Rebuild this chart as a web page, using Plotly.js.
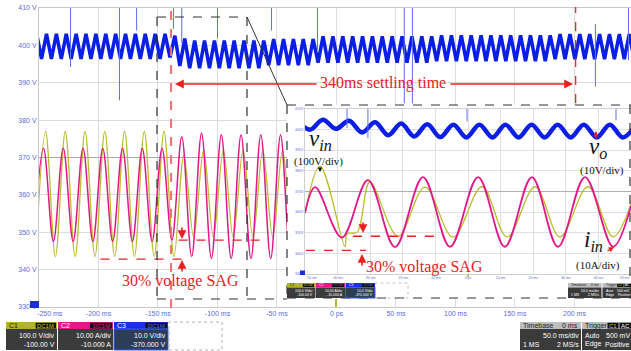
<!DOCTYPE html>
<html><head><meta charset="utf-8">
<script src="https://cdn.plot.ly/plotly-3.0.1.min.js"></script>
<style>html,body{margin:0;padding:0;background:#fff}#chart{width:631px;height:351px}</style>
</head><body><div id="chart"></div>
<script>
// ================= DATA =================
// Main capture (50 ms/div). Waveform extremes, alternating trough/peak (or peak/trough for vo)
const vinStart = -252.8, vinHalf = 8.3;           // ms  (C1 v_in, first extreme = trough)
const vinExt = [343.5,377,343.5,377,343.5,377,343.5,377,343.5,377,343.5,377,343.5,377,
  343.5,370.5,
  348.7,372,348.7,372,348.7,372,348.7,372,348.7,372,348.7,372,348.7,372,348.7,372,
  348.7,372,348.7,372,348.7,372,348.7,372,348.7,372,348.7,372,348.7,372,348.7,372,
  348.7,372,348.7,372,348.7,372,348.7,372,348.7,372,348.7,372];
const iinStart = -254.5, iinHalf = 8.3;           // C2 i_in (displayed), first = trough
const iinExt = [347.5,372.5,347.5,372.5,347.5,372.5,347.5,372.5,347.5,372.5,347.5,372.5,347.5,372.5,
  347.9,375.5,343.5,376.5,
  343,376,343,376,343,376,343,376,343,376,343,376,343,376,343,376,343,376,343,376,343,376,
  343,376,343,376,343,376,343,376,343,376,343,376,343,376,343,376,343,376,343,376];
const voStart = -252.0, voHalf = 4.15;            // C3 v_o, first = peak
const voExt = [403.1,396.4,403.1,396.4,403.1,396.4,403.1,396.4,403.1,396.4,403.1,396.4,403.1,396.4,
  403.1,396.4,403.1,396.4,403.1,396.4,403.1,396.4,403.1,396.4,403.1,396.4,403.1,
  396.8,402.6,394.5,401.8,
  393.9,401.3,393.9,401.3,393.9,401.3,393.9,401.3,393.9,401.3,393.9,401.3,393.9,401.3,393.9,401.3,
  394.7,401.7,394.7,401.7,394.7,401.7,394.7,401.7,394.7,401.7,
  395.4,402.4,395.4,402.4,395.4,402.4,395.4,402.4,395.4,402.4,395.4,402.4,
  395.4,402.4,395.4,402.4,395.4,402.4,395.4,402.4,395.4,402.4,395.4,402.4,
  395.8,402.7,395.8,402.7,395.8,402.7,395.8,402.7,395.8,402.7,395.8,402.7,
  395.8,402.7,395.8,402.7,395.8,402.7,395.8,402.7,395.8,402.7,395.8,402.7,
  396.3,403.0,396.3,403.0,396.3,403.0,396.3,403.0,396.3,403.0,396.3,403.0,396.3,403.0,396.3,403.0,396.3];
// glitch spikes on v_o (main)
const spikeT  = [-223.5,-182.4,-168,-137,-130,-100,-54.6,-16,57,63.8,217.6,245.4];
const spikeHi = [410,410,410,410,410,410,410,410,410,410,405.7,410];
const spikeLo = [394.2,385.3,404,404.4,400.6,402,404,398.8,384.5,384.5,389,396];

// Zoomed inset capture (10 ms/div)
const zVinT = [-50,-45.4,-37.7,-37.1,-34.0,-30.1,-21.5,-13.2,-4.6,4.3,12.0,20.6,28.2,36.8,44.5,50];
const zVinV = [359.5,382.3,343.2,349.5,350.3,374.6,348.3,372.1,347.9,372.3,348,372.3,348,372.3,348,364];
const zIinT = [-50,-46.9,-38.7,-30.7,-22.4,-13.8,-5.5,3.1,11.3,19.6,27.6,35.9,44.5,50];
const zIinV = [359.5,372.1,347.7,375.5,343,377,343.2,377,343.2,377,343.2,377,343.2,363];
const zVoStart = -52.5, zVoHalf = 4.0;
const zVoExt = [404.6,400,404.8,400.4,404.3,398.6,403.6,397.3,403,396.7,402.6,396.4,402.4,396.2,
  402.4,396.2,402.4,396.2,402.4,396.2,402.4,396.2,402.4,396.2,402.4,396.2,402.4];
const zSpikeT = [-37.1,-30.7,-0.3,45.4];
const zSpikeLo = [400.7,395.8,404,404.5];

// tick labels
const yTicks = [410,400,390,380,370,360,350,340,330];
const xTicks = [-250,-200,-150,-100,-50,0,50,100,150,200,250];
const xTickText = ['-250 ms','-200 ms','-150 ms','-100 ms','-50 ms','0 ps','50 ms','100 ms','150 ms','200 ms','250 ms'];
const zxTicks = [-50,-40,-30,-20,-10,0,10,20,30,40,50];
const zxTickText = ['-50 ms','-40 ms','-30 ms','-20 ms','-10 ms','0 ps','10 ms','20 ms','30 ms','40 ms','50 ms'];
const settleStart = -139, settleEnd = 201;   // ms (340 ms settling)

// ================= BUILD =================
function alt(start, half, vals){ return {x: vals.map((v,i)=>start+half*i), y: vals.slice()}; }
function spikes(ts, hi, lo){ const x=[],y=[]; ts.forEach((t,i)=>{x.push(t,t,null); y.push(Array.isArray(hi)?hi[i]:hi, lo[i], null);}); return {x,y}; }

const YEL='#b7bf2c', MAG='#e2178a', BLU='#0a1ee6', SPK='#5d6ef2', RED='#e8201f', TB='#5b6cd8';
const vin=alt(vinStart,vinHalf,vinExt), iin=alt(iinStart,iinHalf,iinExt), vo=alt(voStart,voHalf,voExt);
const sp=spikes(spikeT,spikeHi,spikeLo);
const zvo=alt(zVoStart,zVoHalf,zVoExt);
const zsp=spikes(zSpikeT,410,zSpikeLo);

const traces=[
 {x:vin.x,y:vin.y,mode:'lines',line:{color:YEL,width:1.3,shape:'spline'},xaxis:'x',yaxis:'y'},
 {x:iin.x,y:iin.y,mode:'lines',line:{color:MAG,width:1.5,shape:'spline'},xaxis:'x',yaxis:'y'},
 {x:vo.x,y:vo.y,mode:'lines',line:{color:BLU,width:3.5},xaxis:'x',yaxis:'y'},
 {x:sp.x,y:sp.y,mode:'lines',line:{color:SPK,width:1},xaxis:'x',yaxis:'y'},
 {x:[0],y:[0],mode:'markers',marker:{opacity:0},xaxis:'x2',yaxis:'y2',hoverinfo:'skip'},
 {x:zVinT,y:zVinV,mode:'lines',line:{color:YEL,width:1.3,shape:'spline'},xaxis:'x3',yaxis:'y3'},
 {x:zIinT,y:zIinV,mode:'lines',line:{color:MAG,width:1.8,shape:'spline'},xaxis:'x3',yaxis:'y3'},
 {x:zvo.x,y:zvo.y,mode:'lines',line:{color:BLU,width:4.5,shape:'spline'},xaxis:'x3',yaxis:'y3'},
 {x:zsp.x,y:zsp.y,mode:'lines',line:{color:SPK,width:1},xaxis:'x3',yaxis:'y3'}
];

// pixel -> paper helpers (main plot area: x 39..631, y 8..307)
const L=39,T=8,W=592,H=299;
const X=px=>(px-L)/W, Y=py=>1-(py-T)/H;
const shapes=[], ann=[];
function R(x0,y0,x1,y1,fill,lc,lw,dash){shapes.push({type:'rect',xref:'paper',yref:'paper',x0:X(x0),x1:X(x1),y0:Y(y1),y1:Y(y0),fillcolor:fill||'rgba(0,0,0,0)',line:{color:lc||'rgba(0,0,0,0)',width:lw||0,dash:dash||'solid'},layer:'above'});}
function Ln(x0,y0,x1,y1,c,w,dash){shapes.push({type:'line',xref:'paper',yref:'paper',x0:X(x0),y0:Y(y0),x1:X(x1),y1:Y(y1),line:{color:c,width:w,dash:dash||'solid'},layer:'above'});}
function Tx(x,y,t,o){o=o||{};ann.push({xref:'paper',yref:'paper',x:X(x),y:Y(y),text:t,showarrow:false,xanchor:o.a||'center',yanchor:'middle',font:{family:o.f||'Liberation Sans, Arial, sans-serif',size:o.s||7,color:o.c||'#fff'},borderpad:0});}
function Ar(xh,yh,xt,yt,c,w,s){ann.push({xref:'paper',yref:'paper',x:X(xh),y:Y(yh),ax:xt-xh,ay:yt-yh,text:'',showarrow:true,arrowhead:2,arrowsize:s||1,arrowwidth:w||1.5,arrowcolor:c});}

// centre graticule line (370 V)
shapes.push({type:'line',xref:'x',yref:'y',x0:-250,x1:247.5,y0:370,y1:370,line:{color:'#a8a8a8',width:1},layer:'between'});
shapes.push({type:'line',xref:'x3',yref:'y3',x0:-50,x1:50,y0:370,y1:370,line:{color:'#b0b0b0',width:1},layer:'between'});

// settling-time red dashed markers
shapes.push({type:'line',xref:'x',yref:'paper',x0:settleStart,x1:settleStart,y0:Y(308),y1:Y(7),line:{color:'#f07070',width:2,dash:'dash'},layer:'above'});
shapes.push({type:'line',xref:'x',yref:'paper',x0:settleEnd,x1:settleEnd,y0:Y(103),y1:Y(7),line:{color:'#e02020',width:1.2,dash:'dash'},layer:'above'});
// sag level dashed lines (main)
shapes.push({type:'line',xref:'x',yref:'y',x0:-198.3,x1:-124.3,y0:342.8,y1:342.8,line:{color:RED,width:1.3,dash:'dash'},layer:'above'});
shapes.push({type:'line',xref:'x',yref:'y',x0:-132.7,x1:-59.6,y0:347.9,y1:347.9,line:{color:RED,width:1.3,dash:'dash'},layer:'above'});
// sag level dashed lines (inset)
shapes.push({type:'line',xref:'x3',yref:'y3',x0:-49.7,x1:-31.3,y0:341.5,y1:341.5,line:{color:RED,width:1.3,dash:'dash'},layer:'above'});
shapes.push({type:'line',xref:'x3',yref:'y3',x0:-35.3,x1:-8.6,y0:348.3,y1:348.3,line:{color:RED,width:1.3,dash:'dash'},layer:'above'});

// zoom rectangle + inset frame
const DK='#333333';
Ln(157,17,247,17,DK,1.2,'dash'); Ln(157,17,157,299,DK,1.2,'dash'); Ln(247,17,247,299,DK,1.2,'dash');
Ln(157,299,287,299,DK,1.2,'dash'); Ln(247,17,287,105,DK,1,'solid');
Ln(287,105,631,105,DK,1.2,'dash'); Ln(287,105,287,298,DK,1.2,'dash'); Ln(287,298,631,298,DK,1.2,'dash'); Ln(630,105,630,298,DK,1.2,'dash');

// ground / trigger markers
R(30,301,39,308,'#1a2ee0'); Ln(336,299,336,307,'#b7b72a',2);
R(300,270.5,305,275,'#1a2ee0'); Ln(468,274,468,277,'#b7b72a',1.5);

// annotations text
const SER='Liberation Serif, Times New Roman, serif';
Tx(383,83,'340ms settling time',{f:SER,s:16,c:RED});
Ar(175,84,318,84,RED,1.6,1.1); Ar(573,84,449,84,RED,1.6,1.1);
Tx(180.5,281,'30% voltage SAG',{f:SER,s:16,c:RED});
Ar(182,239,182,226,RED,1.6,1.1); Ar(182,260,182,273,RED,1.6,1.1);
Tx(424,267,'30% voltage SAG',{f:SER,s:16,c:RED});
Ar(363,233,363,221,RED,1.6,1.1); Ar(362,254,362,267,RED,1.6,1.1);
Tx(320,140,'<i>v</i><sub><i>in</i></sub>',{f:SER,s:23,c:'#111'});
Tx(318,161.5,'(100V/div)',{f:SER,s:11,c:'#111'});
Ar(320,172,320,166,'#111',1,0.9);
Tx(598,148,'<i>v</i><sub><i>o</i></sub>',{f:SER,s:23,c:'#111'});
Tx(602,170.5,'(10V/div)',{f:SER,s:11,c:'#111'});
Ar(596,131,596,141,RED,1.2,0.9);
Tx(593,241,'<i>i</i><sub><i>in</i></sub>',{f:SER,s:23,c:'#111'});
Tx(598,265.5,'(10A/div)',{f:SER,s:11,c:'#111'});
Ar(614,247,606,252,RED,1.2,0.9);

// ---- channel / timebase panels (main) ----
function chan(x0,x1,y0,yh,y1,hdr,name,tagC,bodyC,l1,l2,s,border){
  R(x0,y0,x1,yh,hdr); Tx(x0+2,(y0+yh)/2,name,{a:'left',s:s,c:name==='C1'?'#1a1a1a':'#fff'});
  const bw=(x1-x0)*0.4; R(x1-bw-1,y0+0.8,x1-1,yh-0.5,'#111'); Tx(x1-1-bw/2,(y0+yh)/2,'DC1M',{s:s*0.85,c:tagC});
  R(x0,yh,x1,y1,bodyC,border||null,border?1:0);
  const r=(y1-yh); Tx(x1-1.5,yh+r*0.33,l1,{a:'right',s:s}); Tx(x1-1.5,yh+r*0.72,l2,{a:'right',s:s});
}
chan(6,57,322,329,350,'#b2b22c','C1','#c9c930','#3b3b3b','100.0 V/div','-100.00 V',7);
chan(58,113,322,329,350,'#e4168b','C2','#e4168b','#3b3b3b','10.00 A/div','-10.000 A',7);
chan(114,168,322,329,350,'#1c2ee6','C3','#4a6cff','#2c3d5a','10.0 V/div','-370.000 V',7,'#3a5cff');
R(169,322,222,350,null,'#b0b0b0',1,'dot');
function tbase(x0,x1,x2,y0,yh,y1,s){
  R(x0,y0,x1,yh,'#bdbdbd'); Tx(x0+2,(y0+yh)/2,'Timebase',{a:'left',s:s,c:'#222'}); Tx(x1-2,(y0+yh)/2,'0 ms',{a:'right',s:s,c:'#222'});
  R(x0,yh,x1,y1,'#3b3b3b'); const r=y1-yh;
  Tx(x1-1.5,yh+r*0.33,'50.0 ms/div',{a:'right',s:s}); Tx(x0+2,yh+r*0.72,'1 MS',{a:'left',s:s}); Tx(x1-1.5,yh+r*0.72,'2 MS/s',{a:'right',s:s});
  R(x1+1,y0,x2,yh,'#bdbdbd'); Tx(x1+3,(y0+yh)/2,'Trigger',{a:'left',s:s,c:'#222'});
  const w=(x2-x1); R(x1+w*0.53,y0+0.8,x1+w*0.75,yh-0.5,'#111'); Tx(x1+w*0.64,(y0+yh)/2,'C1',{s:s*0.85,c:'#c9c930'});
  R(x1+w*0.77,y0+0.8,x2,yh-0.5,'#111'); Tx(x1+w*0.885,(y0+yh)/2,'AC',{s:s*0.85,c:'#fff'});
  R(x1+1,yh,x2,y1,'#3b3b3b');
  Tx(x1+3,yh+r*0.33,'Auto',{a:'left',s:s}); Tx(x2,yh+r*0.33,'500 mV',{a:'right',s:s});
  Tx(x1+3,yh+r*0.72,'Edge',{a:'left',s:s}); Tx(x2,yh+r*0.72,'Positive',{a:'right',s:s});
}
tbase(520,581,631,322,329,350,7);
// ---- inset panels ----
chan(287,315,283,287.5,298,'#b2b22c','C1','#c9c930','#3b3b3b','100.0 V/div','-100.00 V',3.5);
chan(315.5,345,283,287.5,298,'#e4168b','C2','#e4168b','#3b3b3b','10.00 A/div','-10.000 A',3.5);
chan(345.5,375,283,287.5,298,'#1c2ee6','C3','#4a6cff','#2c3d5a','10.0 V/div','-370.000 V',3.5,'#3a5cff');
R(375.5,283,408,298,null,'#b0b0b0',0.8,'dot');
tbase(568,601.5,631,283,287.5,298,3.5);

// edge label nudges (labels sit inside the screen edge)
const xTickPos = xTicks.map((v,i)=> i===0? v+9 : (i===xTicks.length-1? v-9.5 : v));
const zxTickPos = zxTicks.map((v,i)=> i===0? v+2 : (i===zxTicks.length-1? v-2 : v));

const tickFont={family:'Liberation Sans, Arial, sans-serif',size:7,color:TB};
const layout={
  width:631,height:351,margin:{l:39,r:0,t:8,b:44},
  paper_bgcolor:'#fff',plot_bgcolor:'#fff',showlegend:false,
  xaxis:{domain:[0,1],range:[-250,247.5],tickmode:'array',tickvals:xTickPos,ticktext:xTickText,showgrid:false,zeroline:false,
    showline:true,mirror:true,linecolor:'#c8c8c8',ticks:'',tickfont:tickFont,
    minor:{tickmode:'linear',tick0:0,dtick:50,showgrid:true,gridcolor:'#dcdcdc',gridwidth:1,ticks:''}},
  yaxis:{domain:[0,1],range:[330,410],tickmode:'array',tickvals:yTicks,ticktext:yTicks.map(v=>v+' V'),showgrid:true,gridcolor:'#dcdcdc',
    zeroline:false,showline:true,mirror:true,linecolor:'#c8c8c8',ticks:'',tickfont:tickFont},
  xaxis2:{domain:[X(287),1],anchor:'y2',visible:false,range:[0,1]},
  yaxis2:{domain:[Y(298),Y(105)],anchor:'x2',visible:false,range:[0,1]},
  xaxis3:{domain:[X(305),1],anchor:'y3',range:[-50,50],tickmode:'array',tickvals:zxTickPos,ticktext:zxTickText,showgrid:false,zeroline:false,
    showline:true,mirror:true,linecolor:'#d0d0d0',ticks:'',tickfont:{family:'Liberation Sans, Arial, sans-serif',size:3.5,color:TB},
    minor:{tickmode:'linear',tick0:0,dtick:10,showgrid:true,gridcolor:'#e0e0e0',gridwidth:1,ticks:''}},
  yaxis3:{domain:[Y(274),Y(109)],anchor:'x3',range:[330,410],tickmode:'array',tickvals:yTicks,ticktext:yTicks.map(v=>v+'V'),showgrid:true,gridcolor:'#e0e0e0',
    zeroline:false,showline:true,mirror:true,linecolor:'#d0d0d0',ticks:'',tickfont:{family:'Liberation Sans, Arial, sans-serif',size:3.5,color:TB}},
  shapes:shapes,annotations:ann
};
Plotly.newPlot('chart',traces,layout,{displayModeBar:false,staticPlot:true});
</script></body></html>
